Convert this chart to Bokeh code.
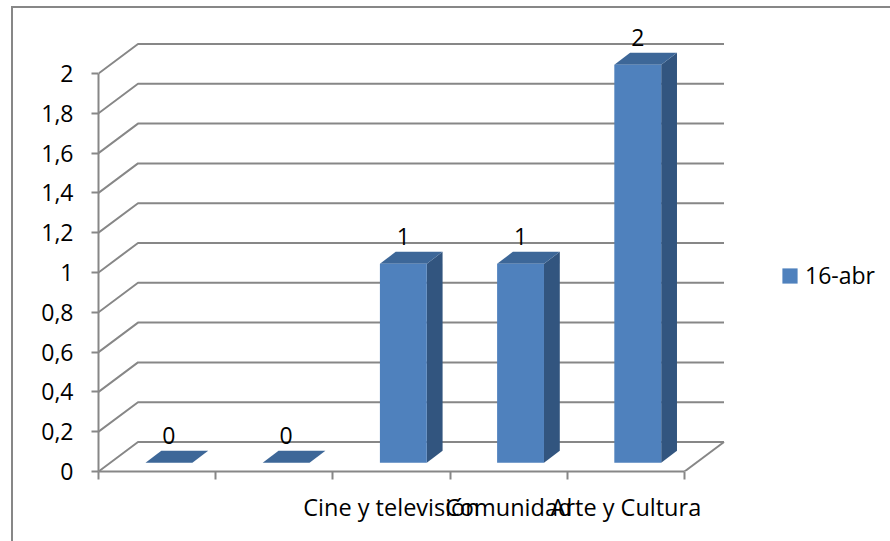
from bokeh.plotting import figure
from bokeh.models import Range1d, LinearAxis, FixedTicker, Legend, LegendItem
from bokeh.core.properties import value
from bokeh.embed import file_html
from bokeh.resources import INLINE

# ---------------- data ----------------
categories = ["", "", "Cine y televisión", "Comunidad", "Arte y Cultura"]
values = [0, 0, 1, 1, 2]
series_name = "16-abr"
y_ticks = [0, 0.2, 0.4, 0.6, 0.8, 1, 1.2, 1.4, 1.6, 1.8, 2]
y_tick_labels = ["0", "0,2", "0,4", "0,6", "0,8", "1", "1,2", "1,4", "1,6", "1,8", "2"]

# ---------------- layout / style ----------------
W, H = 890, 541
FRAME_L, FRAME_R, FRAME_T, FRAME_B = 98, 880, 14, 471
PX_CAT = 117.2          # pixels per category
PX_VAL = 199.0          # pixels per value unit
DX = 39.5 / PX_CAT      # depth offset in category units
DY = 29.5 / PX_VAL      # depth offset in value units
D0, D1 = 0.3, 0.7       # bar depth span (fraction of depth)
BAR_W = 0.40
GRAY = "#878787"
FRONT = "#4F81BD"
SIDE = "#32557F"
TOP = "#3D6798"
FONT = "Open Sans"
FS = "23px"
FS_CAT = "23.5px"

n = len(categories)
x_end = (FRAME_R - FRAME_L) / PX_CAT
y_end = (FRAME_B - FRAME_T) / PX_VAL
y_max = y_ticks[-1]

p = figure(width=W, height=H, x_range=Range1d(0, x_end), y_range=Range1d(0, y_end),
           output_backend="svg", toolbar_location=None,
           x_axis_type=None, y_axis_type=None,
           min_border_left=FRAME_L, min_border_right=W - FRAME_R,
           min_border_top=FRAME_T, min_border_bottom=H - FRAME_B)
p.outline_line_color = None
p.background_fill_color = "white"
p.border_fill_alpha = 0
# outer chart border (left and top edges only, the rest lies outside the window)
p.styles = {"box-shadow": "inset 11px 6px 0 0 white, inset 13px 8px 0 0 #878787"}

# ---------------- axes ----------------
yaxis = LinearAxis(ticker=FixedTicker(ticks=y_ticks, minor_ticks=[]), bounds=(0, y_max),
                   major_label_overrides=dict(zip(y_ticks, y_tick_labels)),
                   axis_line_color=GRAY, axis_line_width=2,
                   major_tick_line_color=GRAY, major_tick_line_width=2,
                   major_tick_out=7, major_tick_in=0, minor_tick_out=0, minor_tick_in=0,
                   major_label_standoff=18, major_label_text_font=FONT,
                   major_label_text_font_size=FS, major_label_text_color="black")
p.add_layout(yaxis, "left")

centers = [i + 0.5 for i in range(n)]
xaxis = LinearAxis(ticker=FixedTicker(ticks=centers, minor_ticks=list(range(n + 1))), bounds=(0, n),
                   major_label_overrides=dict(zip(centers, categories)),
                   axis_line_color=GRAY, axis_line_width=2,
                   major_tick_out=0, major_tick_in=0,
                   minor_tick_out=8, minor_tick_in=0,
                   minor_tick_line_color=GRAY, minor_tick_line_width=2,
                   major_label_standoff=11, major_label_text_font=FONT,
                   major_label_text_font_size=FS_CAT, major_label_text_color="black")
p.add_layout(xaxis, "below")

# ---------------- back wall gridlines + floor ----------------
gx, gy = [], []
for t in y_ticks:
    gx.append([0, DX, n + DX])
    gy.append([t, t + DY, t + DY])
gx.append([n, n + DX])
gy.append([0, DY])
p.multi_line(gx, gy, line_color=GRAY, line_width=2)

# ---------------- 3D bars ----------------
fx, fy, sx, sy, tx, ty = [], [], [], [], [], []
for i, v in enumerate(values):
    xl = i + 0.5 - BAR_W / 2
    xr = i + 0.5 + BAR_W / 2
    a0x, a0y = D0 * DX, D0 * DY
    a1x, a1y = D1 * DX, D1 * DY
    fx.append([xl + a0x, xr + a0x, xr + a0x, xl + a0x])
    fy.append([a0y, a0y, v + a0y, v + a0y])
    sx.append([xr + a0x, xr + a1x, xr + a1x, xr + a0x])
    sy.append([a0y, a1y, v + a1y, v + a0y])
    tx.append([xl + a0x, xr + a0x, xr + a1x, xl + a1x])
    ty.append([v + a0y, v + a0y, v + a1y, v + a1y])

p.patches(sx, sy, fill_color=SIDE, line_color=None)
p.patches(tx, ty, fill_color=TOP, line_color=None)
front_r = p.patches(fx, fy, fill_color=FRONT, line_color=None)

# ---------------- data labels ----------------
p.text(x=[c + D0 * DX for c in centers], y=[v + D1 * DY for v in values],
       text=[str(v) for v in values], text_align="center", text_baseline="middle",
       y_offset=-15, text_font=value(FONT), text_font_size=value(FS), text_color="black")

# ---------------- legend ----------------
legend = Legend(items=[LegendItem(label=series_name, renderers=[front_r])],
                location=(682, 180), padding=0, margin=0, spacing=0,
                glyph_width=19, glyph_height=19, label_standoff=6, label_height=19,
                label_text_font=FONT, label_text_font_size=FS, label_text_color="black",
                border_line_color=None, background_fill_alpha=0)
p.add_layout(legend)

open("out.html", "w").write(file_html(p, INLINE))
